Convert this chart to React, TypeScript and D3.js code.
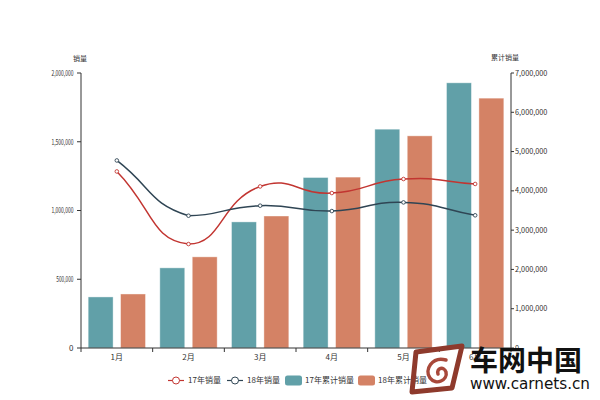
import React from "react";
import * as d3 from "d3";

const months = ["1月", "2月", "3月", "4月", "5月", "6月"];
const sales17 = [1284000, 756000, 1175000, 1127000, 1229000, 1193000];
const sales18 = [1364000, 962000, 1035000, 996000, 1059000, 965000];
const cum17 = [1300000, 2040000, 3210000, 4340000, 5570000, 6750000];
const cum18 = [1375000, 2320000, 3360000, 4350000, 5400000, 6360000];
const leftTicks = [0, 500000, 1000000, 1500000, 2000000];
const rightTicks = [0, 1000000, 2000000, 3000000, 4000000, 5000000, 6000000, 7000000];
const legendNames = ["17年销量", "18年销量", "17年累计销量", "18年累计销量"];

const C_RED = "#c23531";
const C_DARK = "#2f4554";
const C_TEAL = "#61a0a8";
const C_ORANGE = "#d48265";
const AXIS = "#333";
const FONT = "'Microsoft YaHei', 'Noto Sans CJK SC', 'Noto Sans', sans-serif";

// ECharts-like smooth bezier with bounding-box constraint
function smoothPath(pts: [number, number][], smooth = 0.5): string {
  const n = pts.length;
  const minX = d3.min(pts, (p) => p[0]) as number;
  const maxX = d3.max(pts, (p) => p[0]) as number;
  const minY = d3.min(pts, (p) => p[1]) as number;
  const maxY = d3.max(pts, (p) => p[1]) as number;
  const clamp = (p: [number, number]): [number, number] => [
    Math.max(minX, Math.min(maxX, p[0])),
    Math.max(minY, Math.min(maxY, p[1])),
  ];
  const cpPrev: [number, number][] = [];
  const cpNext: [number, number][] = [];
  for (let i = 0; i < n; i++) {
    const p = pts[i];
    const prev = pts[Math.max(0, i - 1)];
    const next = pts[Math.min(n - 1, i + 1)];
    const vx = (next[0] - prev[0]) * smooth;
    const vy = (next[1] - prev[1]) * smooth;
    let d0 = Math.hypot(p[0] - prev[0], p[1] - prev[1]);
    let d1 = Math.hypot(p[0] - next[0], p[1] - next[1]);
    const s = d0 + d1;
    if (s !== 0) {
      d0 /= s;
      d1 /= s;
    }
    cpPrev.push(clamp([p[0] - vx * d0, p[1] - vy * d0]));
    cpNext.push(clamp([p[0] + vx * d1, p[1] + vy * d1]));
  }
  const path = d3.path();
  path.moveTo(pts[0][0], pts[0][1]);
  for (let i = 0; i < n - 1; i++) {
    const a = cpNext[i];
    const b = cpPrev[i + 1];
    path.bezierCurveTo(a[0], a[1], b[0], b[1], pts[i + 1][0], pts[i + 1][1]);
  }
  return path.toString();
}

export default function App() {
  const W = 600, H = 400;
  const left = 81, right = 511, top = 73, bottom = 348;

  const x = d3.scaleBand<string>().domain(months).range([left, right]).padding(0);
  const bw = x.bandwidth();
  const xInner = d3.scaleBand<string>().domain(["17", "18"]).range([bw * 0.1, bw * 0.9]).paddingInner(0.2308).paddingOuter(0);
  const yL = d3.scaleLinear().domain([0, 2000000]).range([bottom, top]);
  const yR = d3.scaleLinear().domain([0, 7000000]).range([bottom, top]);
  const fmt = d3.format(",");
  const cx = (i: number) => (x(months[i]) as number) + bw / 2;

  const lineSeries = [
    { data: sales17, color: C_RED },
    { data: sales18, color: C_DARK },
  ];
  const barSeries = [
    { data: cum17, color: C_TEAL, key: "17" },
    { data: cum18, color: C_ORANGE, key: "18" },
  ];

  const legendItems = [
    { x: 168, type: "line", color: C_RED },
    { x: 227, type: "line", color: C_DARK },
    { x: 285, type: "rect", color: C_TEAL },
    { x: 358, type: "rect", color: C_ORANGE },
  ];
  const ly = 380.5;

  return (
    <svg
      width={W}
      height={H}
      style={{ position: "absolute", left: 0, top: 0, background: "#fff" }}
      fontFamily={FONT}
    >
      <rect x={0} y={0} width={W} height={H} fill="#fff" />
      {/* bars */}
      {barSeries.map((s) =>
        s.data.map((v, i) => (
          <rect
            key={s.key + i}
            x={(x(months[i]) as number) + (xInner(s.key) as number)}
            y={yR(v)}
            width={xInner.bandwidth()}
            height={bottom - yR(v)}
            fill={s.color}
            stroke="rgba(255,255,255,0.5)"
            strokeWidth={0.8}
          />
        ))
      )}
      {/* left axis */}
      <line x1={left} x2={left} y1={top} y2={bottom} stroke={AXIS} strokeWidth={1} />
      {leftTicks.map((t) => (
        <g key={"l" + t}>
          <line x1={left - 4} x2={left} y1={yL(t)} y2={yL(t)} stroke={AXIS} />
          <text
            x={73.5}
            y={yL(t)}
            dy="0.35em"
            textAnchor="end"
            fontSize={8}
            fill="#333"
            textLength={t === 0 ? undefined : fmt(t).length * 2.45}
            lengthAdjust="spacingAndGlyphs"
          >
            {fmt(t)}
          </text>
        </g>
      ))}
      <text x={80} y={61} textAnchor="middle" fontSize={7} fill="#333">销量</text>
      {/* right axis */}
      <line x1={right} x2={right} y1={top} y2={bottom} stroke={AXIS} strokeWidth={1} />
      {rightTicks.map((t) => (
        <g key={"r" + t}>
          <line x1={right} x2={right + 3} y1={yR(t)} y2={yR(t)} stroke={AXIS} />
          <text x={515} y={yR(t)} dy="0.35em" textAnchor="start" fontSize={7.3} fill="#333">
            {fmt(t)}
          </text>
        </g>
      ))}
      <text x={505} y={60} textAnchor="middle" fontSize={7} fill="#333">累计销量</text>
      {/* x axis */}
      <line x1={left} x2={right} y1={bottom} y2={bottom} stroke={AXIS} strokeWidth={1} />
      {months.map((m, i) => (
        <line
          key={"xt" + i}
          x1={x(m) as number}
          x2={x(m) as number}
          y1={bottom}
          y2={bottom + 4}
          stroke={AXIS}
        />
      ))}
      <line x1={right} x2={right} y1={bottom} y2={bottom + 4} stroke={AXIS} />
      {months.map((m) => (
        <text
          key={"xl" + m}
          x={(x(m) as number) + bw / 2}
          y={357}
          dy="0.35em"
          textAnchor="middle"
          fontSize={8}
          fill="#333"
        >
          {m}
        </text>
      ))}
      {/* lines */}
      {lineSeries.map((s, si) => (
        <g key={"ls" + si}>
          <path
            d={smoothPath(s.data.map((v, i) => [cx(i), yL(v)] as [number, number]))}
            fill="none"
            stroke={s.color}
            strokeWidth={1.5}
          />
          {s.data.map((v, i) => (
            <circle
              key={i}
              cx={cx(i)}
              cy={yL(v)}
              r={1.8}
              fill="#fff"
              stroke={s.color}
              strokeWidth={0.9}
            />
          ))}
        </g>
      ))}
      {/* legend */}
      {legendItems.map((it, i) => (
        <g key={"lg" + i}>
          {it.type === "line" ? (
            <g>
              <line x1={it.x} x2={it.x + 16} y1={ly} y2={ly} stroke={it.color} strokeWidth={1.2} />
              <circle cx={it.x + 8} cy={ly} r={3.5} fill="#fff" stroke={it.color} strokeWidth={1} />
            </g>
          ) : (
            <rect x={it.x} y={ly - 5} width={17} height={10} rx={2.5} fill={it.color} />
          )}
          <text x={it.x + 20} y={ly} dy="0.35em" fontSize={8} fill="#333">
            {legendNames[i]}
          </text>
        </g>
      ))}
      {/* watermark */}
      <g>
        <path
          d="M416,352 L462,346 L452,388 L412,392 Z"
          fill="none"
          stroke="#8e3a2c"
          strokeWidth={5}
          strokeLinejoin="round"
        />
        <path
          d="M446,360 C432,356 424,370 430,378 C436,386 448,380 446,372 C444,366 436,368 438,374"
          fill="none"
          stroke="#a8483a"
          strokeWidth={3.5}
          strokeLinecap="round"
        />
        <text x={470} y={371} fontSize={28} fontWeight="bold" fill="#111" fontFamily="'Noto Sans CJK SC', sans-serif">
          车网中国
        </text>
        <text x={470} y={389} fontSize={16} fill="#111" fontFamily="'DejaVu Sans', sans-serif" textLength={120} lengthAdjust="spacingAndGlyphs">
          www.carnets.cn
        </text>
      </g>
    </svg>
  );
}
